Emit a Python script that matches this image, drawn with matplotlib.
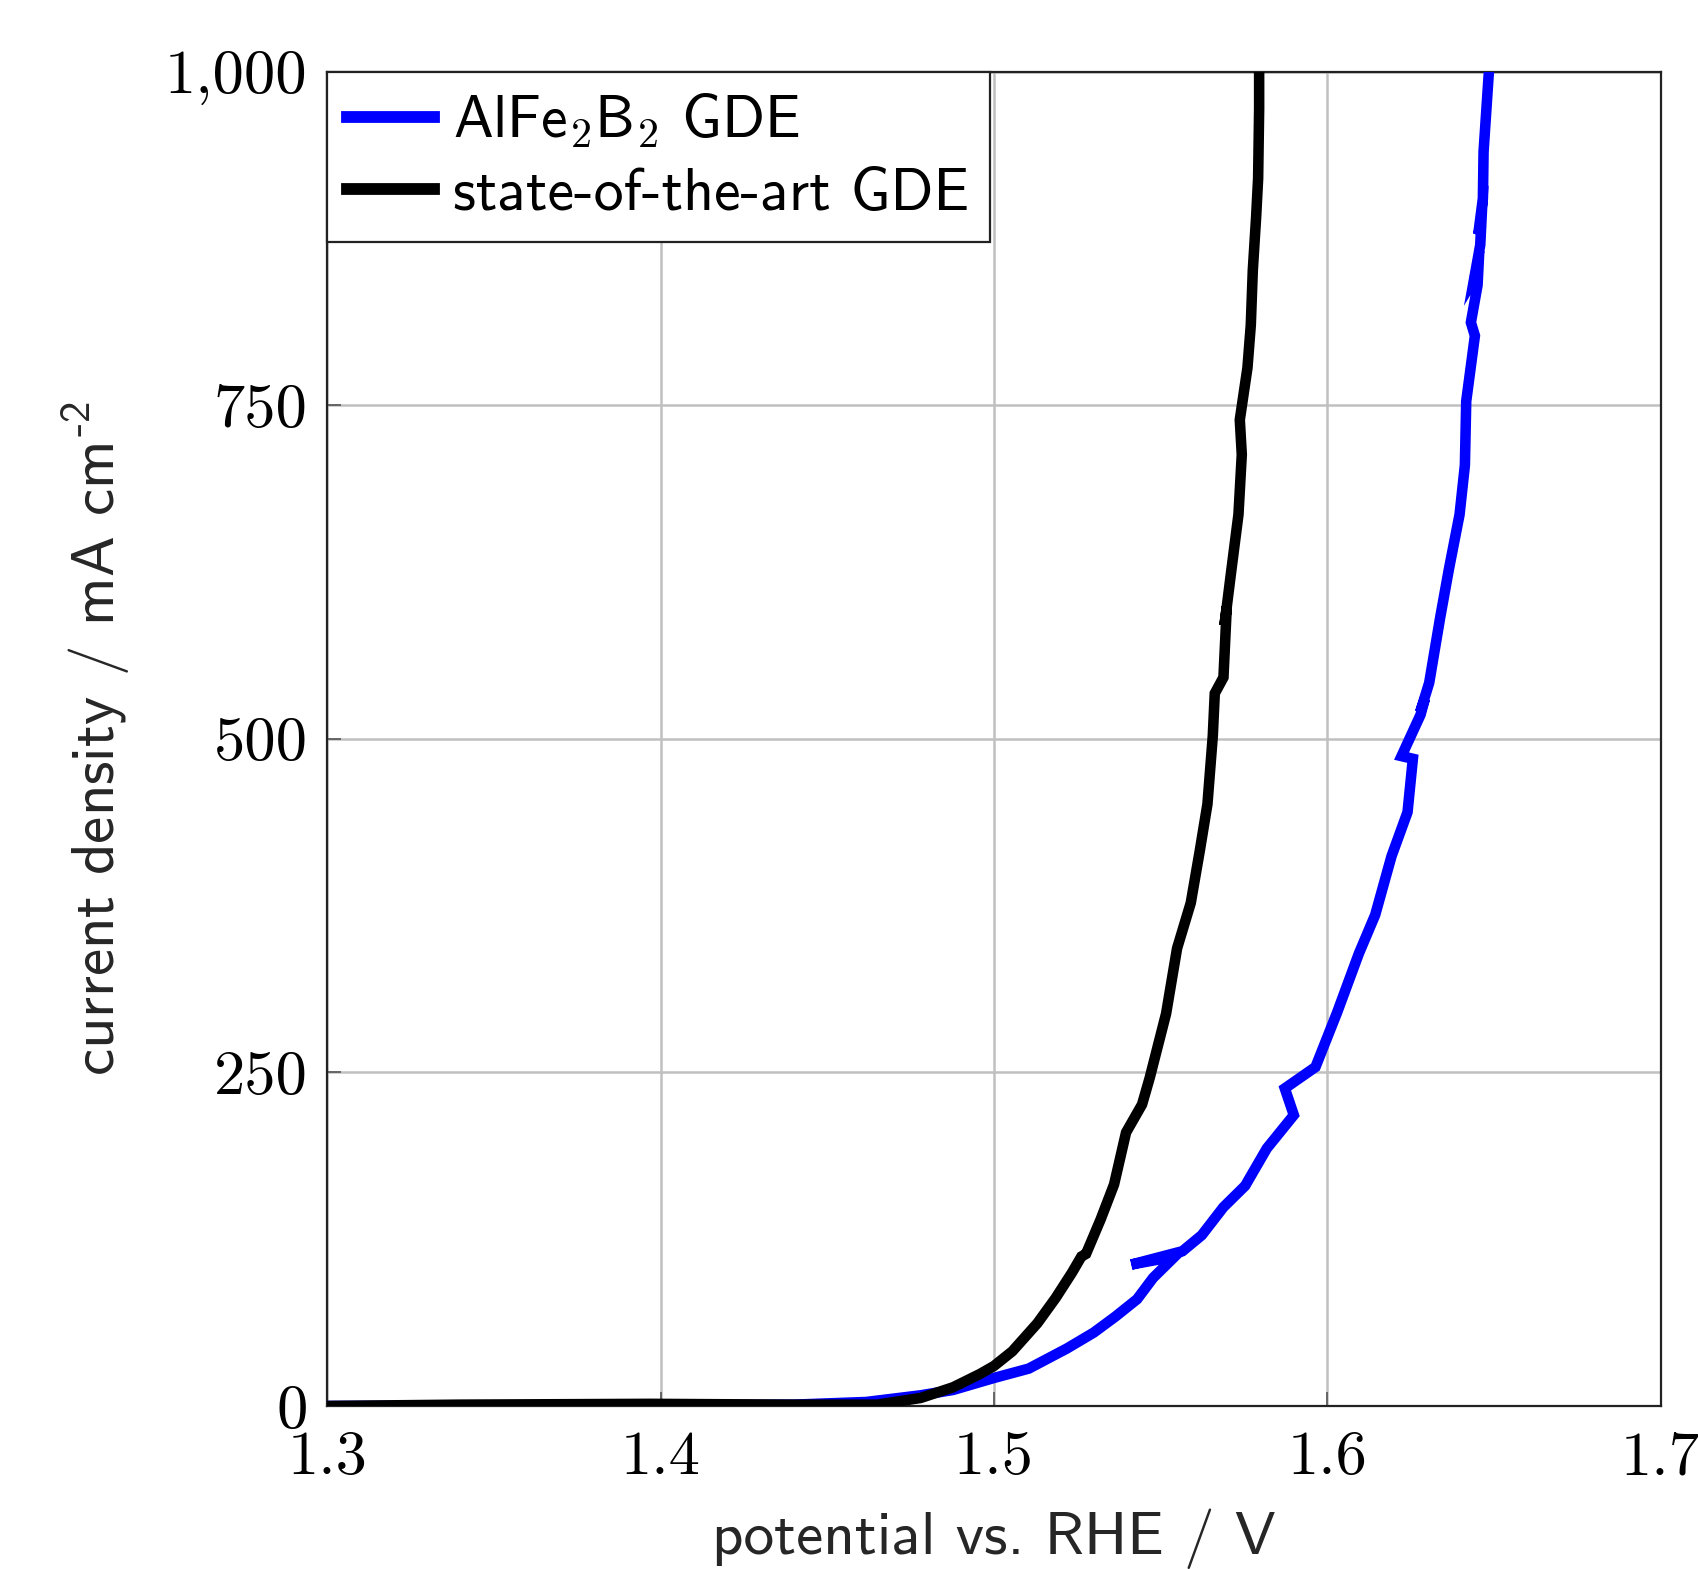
import numpy as np
import matplotlib
matplotlib.use("Agg")
import matplotlib.pyplot as plt

# state-of-the-art GDE (potential / V, current density / mA cm-2)
ref_v = [1.300, 1.340, 1.397, 1.440, 1.465, 1.478, 1.4877, 1.4958, 1.500, 1.5055,
         1.513, 1.5185, 1.5234, 1.5262, 1.5276, 1.532, 1.536, 1.5396, 1.5444,
         1.5467, 1.5516, 1.5549, 1.559, 1.5617, 1.564, 1.5656, 1.5662, 1.5688,
         1.5698, 1.5691, 1.571, 1.5733, 1.5743, 1.5737, 1.576, 1.577, 1.5776,
         1.5786, 1.5792, 1.5795, 1.5795]
ref_j = [0.0, 1.0, 1.6, 1.0, 1.0, 6, 14, 24, 30, 41,
         62, 81, 100, 112, 114, 140, 166, 205, 226,
         246, 294, 343, 377, 416, 451, 502, 534, 546,
         599, 585, 623, 668, 713, 739, 778, 810, 851,
         891, 920, 972, 1000]

# AlFe2B2 GDE
alfe_v = [1.300, 1.400, 1.440, 1.4617, 1.478, 1.4877, 1.500, 1.5104, 1.5218, 1.5299,
          1.5364, 1.5429, 1.5477, 1.5542, 1.5412, 1.5565, 1.5623, 1.5688, 1.5753,
          1.5818, 1.5899, 1.5872, 1.5964, 1.6029, 1.6094, 1.6143, 1.6192, 1.624,
          1.6256, 1.6222, 1.6279, 1.6292, 1.6278, 1.6305, 1.6338, 1.6364, 1.6396,
          1.6412, 1.6416, 1.6442, 1.6430, 1.6450, 1.6452, 1.6440, 1.6458, 1.6461,
          1.6452, 1.6466, 1.6468, 1.6484]
alfe_j = [0.0, 0.5, 1.0, 3, 8, 12, 21, 28, 43, 55,
          67, 80, 96, 112, 106, 116, 128, 149, 165,
          193, 218, 238, 254, 295, 339, 368, 412, 445,
          485, 487, 518, 530, 520, 542, 591, 627, 668,
          705, 753, 802, 812, 840, 850, 845, 870, 885,
          878, 905, 940, 1000]

xticks = [1.3, 1.4, 1.5, 1.6, 1.7]
xlabels = ["1.3", "1.4", "1.5", "1.6", "1.7"]
yticks = [0, 250, 500, 750, 1000]
ylabels = ["0", "250", "500", "750", "1,000"]

plt.rcParams["mathtext.fontset"] = "custom"
plt.rcParams["mathtext.rm"] = "cmss10"
plt.rcParams["mathtext.sf"] = "cmss10"
plt.rcParams["mathtext.it"] = "cmss10"
plt.rcParams["axes.unicode_minus"] = False

fig = plt.figure(figsize=(16.98, 15.69), dpi=100)
ax = fig.add_axes([0.1926, 0.1039, 0.7856, 0.8505])

ax.plot(alfe_v, alfe_j, color="#0000ff", lw=7.6, solid_joinstyle="miter",
        label="AlFe$_2$B$_2$ GDE", zorder=3)
ax.plot(ref_v, ref_j, color="black", lw=7.6, solid_joinstyle="miter",
        label="state-of-the-art GDE", zorder=4)

ax.set_xlim(1.3, 1.7)
ax.set_ylim(0, 1000)
ax.set_xticks(xticks, labels=xlabels)
ax.set_yticks(yticks, labels=ylabels)
for lab in ax.get_xticklabels() + ax.get_yticklabels():
    lab.set_fontfamily("cmr10")
    lab.set_fontsize(45)
ax.tick_params(direction="in", length=10, width=1.2, color="#555555")
ax.tick_params(axis="x", pad=18)
ax.tick_params(axis="y", pad=14)
ax.grid(True, color="#c0c0c0", lw=1.8)
ax.set_axisbelow(True)
for s in ax.spines.values():
    s.set_linewidth(1.6)
    s.set_color("#222222")

ax.set_xlabel("potential vs. RHE / V", fontfamily="cmss10", fontsize=44,
              color="#262626", labelpad=16)
ax.set_ylabel(r"current density / mA cm$^{\text{-2}}$", fontfamily="cmss10",
              fontsize=44, color="#262626", labelpad=24)

leg = ax.legend(loc="upper left", frameon=True, fancybox=False,
                borderaxespad=0.0, borderpad=0.34, handlelength=1.45,
                handletextpad=0.32, labelspacing=0.3,
                prop={"family": "cmss10", "size": 43})
leg.get_frame().set_edgecolor("#222222")
leg.get_frame().set_linewidth(1.6)
leg.get_frame().set_alpha(1)
for t in leg.get_texts():
    t.set_math_fontfamily("cm")
for h in leg.get_lines():
    h.set_linewidth(8.5)

fig.savefig("out.png", dpi=100)
